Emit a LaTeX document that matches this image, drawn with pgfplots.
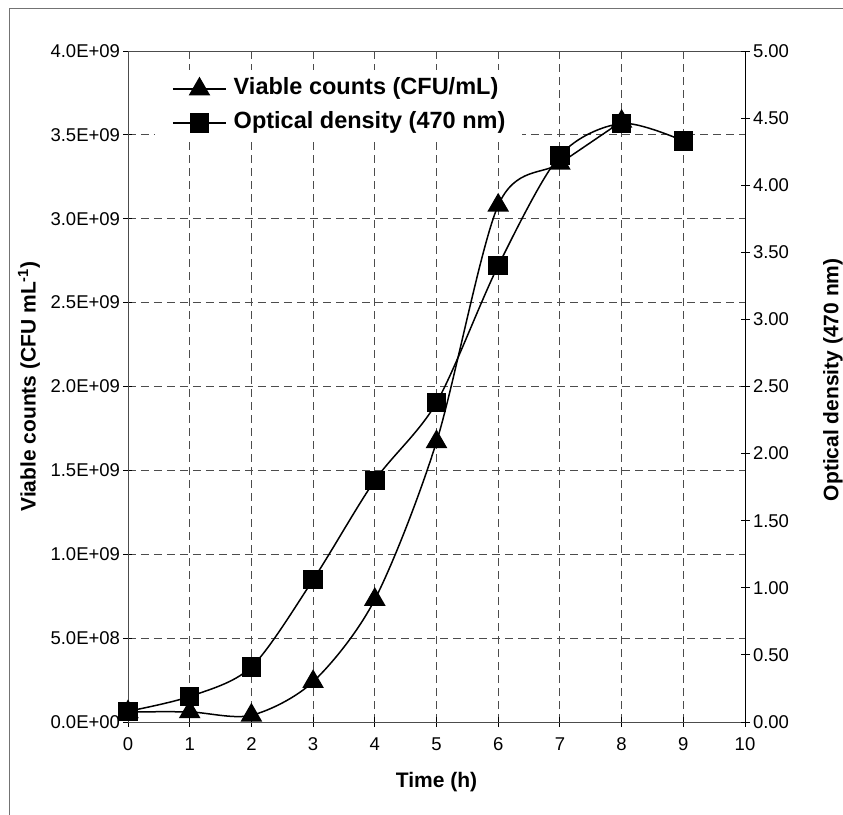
\documentclass[border=0pt]{standalone}
\usepackage{fontspec}
\setmainfont{Liberation Sans}
\usepackage{pgfplots}
\pgfplotsset{compat=1.18}
\newcommand{\tickfont}{\fontsize{18.5bp}{20bp}\selectfont}
\newcommand{\labfont}{\fontsize{21bp}{23bp}\selectfont\bfseries}
\newcommand{\legfont}{\fontsize{23.5bp}{25bp}\selectfont\bfseries}
\begin{document}
\begin{tikzpicture}
\path[use as bounding box] (-128bp,-93bp) rectangle (715bp,722bp);
\draw[black!55, line width=0.8bp] (-119bp,-93bp) -- (-119bp,714bp) -- (715bp,714bp);
\pgfplotsset{
  common/.style={
    at={(0,0)}, anchor=south west,
    scale only axis, width=617bp, height=671bp,
    xmin=0, xmax=10,
    tick align=center, major tick length=9bp,
    tick style={black, line width=0.9bp},
    ticklabel style={font=\tickfont},
    /pgf/number format/assume math mode=true,
  }
}
\begin{axis}[common,
  ymin=0, ymax=4e9,
  xtick={0,1,...,10},
  xticklabels={0,1,2,3,4,5,6,7,8,9,10},
  xticklabel style={yshift=-8bp},
  xtick pos=bottom, ytick pos=left,
  ytick={0,5e8,1e9,1.5e9,2e9,2.5e9,3e9,3.5e9,4e9},
  yticklabels={0.0E+00,5.0E+08,1.0E+09,1.5E+09,2.0E+09,2.5E+09,3.0E+09,3.5E+09,4.0E+09},
  scaled y ticks=false,
  grid=major,
  major grid style={black!70, line width=0.9bp, dash pattern=on 8bp off 5bp},
  axis line style={black!70, line width=0.9bp},
  xlabel={\labfont Time (h)},
  ylabel={\labfont Viable counts (CFU mL\textsuperscript{-1})},
  xlabel style={at={(axis description cs:0.5,-0.0894)}, anchor=center},
  ylabel style={at={(axis description cs:-0.1605,0.5)}, anchor=center},
  legend style={draw=none, fill=white, at={(axis description cs:0.0438,0.9717)}, anchor=north west,
    inner xsep=17bp, inner ysep=8bp, row sep=13bp, column sep=0pt,
    nodes={inner sep=0pt, text height=16bp, text depth=5bp}, font=\legfont},
  legend cell align=left,
  legend image code/.code={\draw[mark repeat=2,mark phase=2] plot coordinates {(0bp,0bp) (26.5bp,0bp) (53bp,0bp)} node[right, inner sep=0pt] {\hspace*{7bp}};},
]
\addplot[black, line width=1.5bp, smooth, mark=triangle*, mark size=11bp, mark options={solid}]
  coordinates {(0,6e7) (1,6e7) (2,4e7) (3,2.4e8) (4,7.3e8) (5,1.67e9) (6,3.08e9) (7,3.33e9) (8,3.58e9)};
\addlegendentry{Viable counts (CFU/mL)}
\addlegendimage{black, line width=1.5bp, mark=square*, mark size=9bp, mark options={solid}}
\addlegendentry{Optical density (470 nm)}
\end{axis}
\begin{axis}[common,
  ymin=0, ymax=5,
  axis x line=none, axis y line*=right,
  axis line style={black, line width=0.9bp},
  ytick={0,0.5,1,1.5,2,2.5,3,3.5,4,4.5,5},
  yticklabels={0.00,0.50,1.00,1.50,2.00,2.50,3.00,3.50,4.00,4.50,5.00},
  ylabel={\labfont Optical density (470 nm)},
  ylabel style={at={(axis description cs:1.1426,0.51)}, anchor=center, rotate=0},
]
\addplot[black, line width=1.5bp, smooth, mark=square*, mark size=9bp, mark options={solid}]
  coordinates {(0,0.08) (1,0.19) (2,0.41) (3,1.06) (4,1.80) (5,2.38) (6,3.40) (7,4.22) (8,4.46) (9,4.33)};
\end{axis}
\end{tikzpicture}
\end{document}
